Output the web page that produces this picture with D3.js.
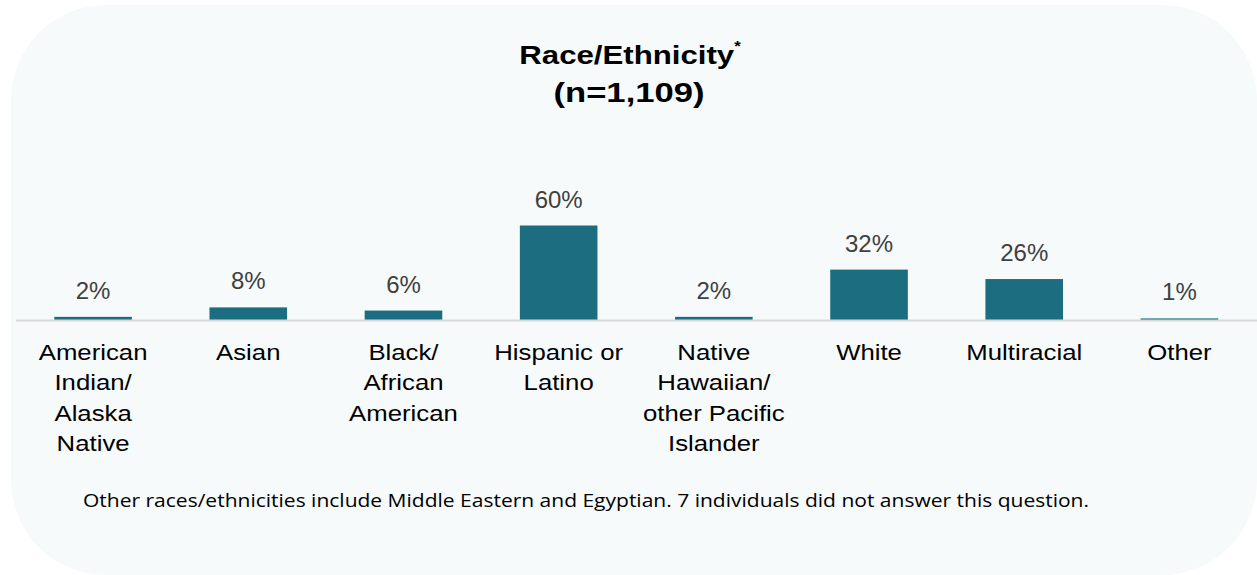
<!DOCTYPE html>
<html>
<head>
<meta charset="utf-8">
<script src="https://cdn.jsdelivr.net/npm/d3@7"></script>
<style>
  html, body { margin: 0; padding: 0; background: #ffffff; }
  svg { display: block; }
</style>
</head>
<body>
<svg id="chart" width="1257" height="575"></svg>
<script>
// Survey respondents by race/ethnicity
const categories = [
  "American Indian/ Alaska Native",
  "Asian",
  "Black/ African American",
  "Hispanic or Latino",
  "Native Hawaiian/ other Pacific Islander",
  "White",
  "Multiracial",
  "Other"
];
const categoryLines = [
  ["American", "Indian/", "Alaska", "Native"],
  ["Asian"],
  ["Black/", "African", "American"],
  ["Hispanic or", "Latino"],
  ["Native", "Hawaiian/", "other Pacific", "Islander"],
  ["White"],
  ["Multiracial"],
  ["Other"]
];
const percents = [2, 8, 6, 60, 2, 32, 26, 1];

const titleLine1 = "Race/Ethnicity";
const titleLine2 = "(n=1,109)";
const footnote = "Other races/ethnicities include Middle Eastern and Egyptian. 7 individuals did not answer this question.";

const svg = d3.select("#chart");
const W = 1257, H = 575;
const SANS = "'Liberation Sans', Arial, sans-serif";

// Rounded panel behind the chart
const panel = { x0: 11, y0: 5, x1: 1257, y1: 575, r: 95 };
svg.append("path")
  .attr("d", (() => {
    const { x0, y0, x1, y1, r } = panel;
    return `M${x0 + r},${y0} H${x1 - r} A${r},${r} 0 0 1 ${x1},${y0 + r} V${y1 - r} A${r},${r} 0 0 1 ${x1 - r},${y1} H${x0 + r} A${r},${r} 0 0 1 ${x0},${y1 - r} V${y0 + r} A${r},${r} 0 0 1 ${x0 + r},${y0} Z`;
  })())
  .attr("fill", "#f6fafb");

const x = d3.scaleBand()
  .domain(categories)
  .range([15.5, 1257])
  .paddingInner(0.5)
  .paddingOuter(0.25);

const baseY = 320;
const y = d3.scaleLinear().domain([0, 60]).range([baseY, 225.5]);

// Bars
svg.append("g").selectAll("rect")
  .data(percents)
  .join("rect")
  .attr("x", (d, i) => x(categories[i]))
  .attr("width", x.bandwidth())
  .attr("y", d => y(d))
  .attr("height", d => baseY - y(d))
  .attr("fill", "#1b6d7f");

// Baseline axis
svg.append("line")
  .attr("x1", 16).attr("x2", 1257)
  .attr("y1", baseY + 0.5).attr("y2", baseY + 0.5)
  .attr("stroke", "#d9d9d9").attr("stroke-width", 2);

// Value labels
svg.append("g").selectAll("text")
  .data(percents)
  .join("text")
  .attr("x", (d, i) => x(categories[i]) + x.bandwidth() / 2)
  .attr("y", d => y(d) - 18)
  .attr("text-anchor", "middle")
  .attr("font-family", SANS)
  .attr("font-size", 24)
  .attr("fill", "#404040")
  .text(d => d + "%");

// Category labels (slightly widened type)
const catG = svg.append("g");
const catScale = 1.12;
categoryLines.forEach((lines, i) => {
  const cx = x(categories[i]) + x.bandwidth() / 2;
  const t = catG.append("text")
    .attr("transform", `translate(${cx},360) scale(${catScale},1)`)
    .attr("text-anchor", "middle")
    .attr("font-family", SANS)
    .attr("font-size", 23)
    .attr("fill", "#000000");
  lines.forEach((ln, j) => {
    t.append("tspan")
      .attr("x", 0)
      .attr("dy", j === 0 ? 0 : 30.5)
      .text(ln);
  });
});

// Title
const title = svg.append("text")
  .attr("transform", "translate(630,64) scale(1.2,1)")
  .attr("text-anchor", "middle")
  .attr("font-family", SANS)
  .attr("font-weight", "bold")
  .attr("font-size", 26)
  .attr("fill", "#000000");
title.append("tspan").text(titleLine1);
title.append("tspan").attr("font-size", 14).attr("dy", -13).text("*");
svg.append("text")
  .attr("transform", "translate(629,102) scale(1.26,1)")
  .attr("text-anchor", "middle")
  .attr("font-family", SANS)
  .attr("font-weight", "bold")
  .attr("font-size", 27.5)
  .attr("fill", "#000000")
  .text(titleLine2);

// Footnote
svg.append("text")
  .attr("x", 586)
  .attr("y", 507)
  .attr("text-anchor", "middle")
  .attr("font-family", "'Open Sans', 'Noto Sans', sans-serif")
  .attr("font-size", 18)
  .attr("textLength", 1006)
  .attr("lengthAdjust", "spacingAndGlyphs")
  .attr("fill", "#000000")
  .text(footnote);
</script>
</body>
</html>
